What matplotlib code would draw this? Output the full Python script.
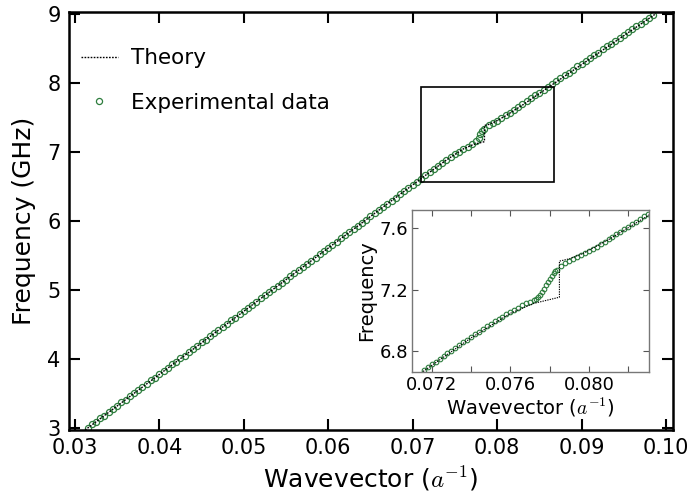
import numpy as np
import matplotlib
matplotlib.use('Agg')
import matplotlib.pyplot as plt
from matplotlib.patches import Rectangle
from matplotlib.ticker import MultipleLocator, FormatStrFormatter

plt.rcParams['mathtext.fontset'] = 'cm'

# experimental dispersion (main panel), wavevector in 1/a, frequency in GHz
k_exp = [0.0315, 0.0320, 0.0325, 0.0330, 0.0335, 0.0340, 0.0345, 0.0350, 0.0355, 0.0360,
         0.0365, 0.0370, 0.0375, 0.0380, 0.0385, 0.0390, 0.0395, 0.0400, 0.0405, 0.0410,
         0.0415, 0.0420, 0.0425, 0.0430, 0.0435, 0.0440, 0.0445, 0.0450, 0.0455, 0.0460,
         0.0465, 0.0470, 0.0475, 0.0480, 0.0485, 0.0490, 0.0495, 0.0500, 0.0505, 0.0510,
         0.0515, 0.0520, 0.0525, 0.0530, 0.0535, 0.0540, 0.0545, 0.0550, 0.0555, 0.0560,
         0.0565, 0.0570, 0.0575, 0.0580, 0.0585, 0.0590, 0.0595, 0.0600, 0.0605, 0.0610,
         0.0615, 0.0620, 0.0625, 0.0630, 0.0635, 0.0640, 0.0645, 0.0650, 0.0655, 0.0660,
         0.0665, 0.0670, 0.0675, 0.0680, 0.0685, 0.0690, 0.0695, 0.0700, 0.0705, 0.0710,
         0.0715, 0.0720, 0.0725, 0.0730, 0.0735, 0.0740, 0.0745, 0.0750, 0.0755, 0.0760,
         0.0765, 0.0770, 0.0775, 0.0778, 0.0780, 0.0782, 0.0785, 0.0790, 0.0795, 0.0800,
         0.0805, 0.0810, 0.0815, 0.0820, 0.0825, 0.0830, 0.0835, 0.0840, 0.0845, 0.0850,
         0.0855, 0.0860, 0.0865, 0.0870, 0.0875, 0.0880, 0.0885, 0.0890, 0.0895, 0.0900,
         0.0905, 0.0910, 0.0915, 0.0920, 0.0925, 0.0930, 0.0935, 0.0940, 0.0945, 0.0950,
         0.0955, 0.0960, 0.0965, 0.0970, 0.0975, 0.0980, 0.0985]
f_exp = [3.00, 3.05, 3.09, 3.14, 3.18, 3.23, 3.28, 3.32, 3.37, 3.41,
         3.46, 3.50, 3.55, 3.60, 3.64, 3.69, 3.73, 3.78, 3.82, 3.87,
         3.92, 3.96, 4.01, 4.05, 4.10, 4.14, 4.19, 4.24, 4.28, 4.33,
         4.37, 4.42, 4.46, 4.51, 4.56, 4.60, 4.65, 4.69, 4.74, 4.78,
         4.83, 4.88, 4.92, 4.97, 5.01, 5.06, 5.10, 5.15, 5.20, 5.24,
         5.29, 5.33, 5.38, 5.42, 5.47, 5.52, 5.56, 5.61, 5.65, 5.70,
         5.75, 5.79, 5.84, 5.88, 5.93, 5.97, 6.02, 6.07, 6.11, 6.16,
         6.20, 6.25, 6.29, 6.34, 6.39, 6.43, 6.48, 6.52, 6.57, 6.61,
         6.66, 6.71, 6.75, 6.80, 6.84, 6.89, 6.93, 6.97, 7.00, 7.04,
         7.07, 7.12, 7.16, 7.21, 7.26, 7.30, 7.34, 7.39, 7.42, 7.45,
         7.49, 7.53, 7.57, 7.61, 7.65, 7.69, 7.74, 7.78, 7.82, 7.86,
         7.90, 7.94, 7.99, 8.03, 8.07, 8.11, 8.15, 8.19, 8.24, 8.28,
         8.32, 8.36, 8.40, 8.44, 8.49, 8.53, 8.57, 8.61, 8.65, 8.69,
         8.74, 8.78, 8.82, 8.86, 8.90, 8.94, 8.99]

# theory curve (with the gap at the anticrossing)
k_th = [0.0312, 0.0716, 0.0740, 0.0760, 0.0772, 0.0785, 0.0785, 0.0790, 0.0797, 0.0810, 0.0830, 0.0988]
f_th = [2.97, 6.67, 6.885, 7.045, 7.11, 7.15, 7.385, 7.40, 7.435, 7.525, 7.68, 9.005]

# zoomed experimental data (inset)
k_zoom = [0.0716, 0.0718, 0.0720, 0.0722, 0.0724, 0.0726, 0.0728, 0.0730, 0.0732, 0.0734,
          0.0736, 0.0738, 0.0740, 0.0742, 0.0744, 0.0746, 0.0748, 0.0750, 0.0752, 0.0754,
          0.0756, 0.0758, 0.0760, 0.0762, 0.0764, 0.0766, 0.0768, 0.0770, 0.0772, 0.0773,
          0.0774, 0.0775, 0.0776, 0.0777, 0.0778, 0.0779, 0.0780, 0.0781, 0.0782, 0.0783,
          0.0784, 0.0786, 0.0788, 0.0790, 0.0792, 0.0794,
          0.0796, 0.0798, 0.0800, 0.0802, 0.0804, 0.0806, 0.0808, 0.0810, 0.0812, 0.0814,
          0.0816, 0.0818, 0.0820, 0.0822, 0.0824, 0.0826, 0.0828, 0.0830]
f_zoom = [6.676, 6.694, 6.712, 6.730, 6.748, 6.766, 6.784, 6.802, 6.820, 6.838,
          6.856, 6.874, 6.891, 6.909, 6.926, 6.943, 6.960, 6.976, 6.992, 7.008,
          7.024, 7.039, 7.054, 7.069, 7.083, 7.097, 7.111, 7.122, 7.132, 7.140,
          7.150, 7.166, 7.185, 7.206, 7.228, 7.248, 7.268, 7.288, 7.305, 7.318,
          7.330, 7.352, 7.370, 7.385, 7.398, 7.410,
          7.425, 7.438, 7.452, 7.466, 7.480, 7.495, 7.510, 7.526, 7.543, 7.559,
          7.576, 7.593, 7.610, 7.626, 7.643, 7.660, 7.677, 7.694]

green = '#2e7d3e'
dots = (0, (1.2, 1.0))

fig = plt.figure(figsize=(6.88, 5.0), dpi=100)
ax = fig.add_axes([0.1003, 0.14, 0.8775, 0.836])
ax.plot(k_th, f_th, color='k', ls=dots, lw=1.0, label='Theory', zorder=3)
ax.plot(k_exp, f_exp, 'o', mfc='none', mec=green, ms=4.4, mew=0.9, label='Experimental data')
ax.add_patch(Rectangle((0.07095, 6.565), 0.01574, 1.377, fill=False, ec='k', lw=1.2, zorder=4))
ax.set_xlim(0.0293, 0.1008)
ax.set_ylim(2.97, 9.03)
ax.xaxis.set_major_locator(MultipleLocator(0.01))
ax.xaxis.set_major_formatter(FormatStrFormatter('%.2f'))
ax.yaxis.set_major_locator(MultipleLocator(1))
ax.tick_params(direction='in', top=True, right=True, length=8, width=1.5, labelsize=15, pad=6)
for s in ax.spines.values():
    s.set_linewidth(1.8)
ax.set_xlabel('Wavevector ($a^{-1}$)', fontsize=18, labelpad=4)
ax.set_ylabel('Frequency (GHz)', fontsize=18, labelpad=8)
ax.legend(loc='upper left', bbox_to_anchor=(-0.012, 0.96), frameon=False, fontsize=15.5,
          handlelength=1.7, handletextpad=0.6, labelspacing=1.15)

# inset
ins = fig.add_axes([0.599, 0.256, 0.344, 0.324])
ins.plot(k_th, f_th, color='k', ls=dots, lw=0.8, zorder=3)
ins.plot(k_zoom, f_zoom, 'o', mfc='none', mec=green, ms=3.3, mew=0.8)
ins.set_xlim(0.0710, 0.08305)
ins.set_ylim(6.663, 7.718)
ins.xaxis.set_major_locator(MultipleLocator(0.004))
ins.xaxis.set_minor_locator(MultipleLocator(0.002))
ins.xaxis.set_major_formatter(FormatStrFormatter('%.3f'))
ins.yaxis.set_major_locator(MultipleLocator(0.4))
ins.yaxis.set_major_formatter(FormatStrFormatter('%.1f'))
ins.tick_params(which='both', direction='in', top=True, right=True, length=4, width=0.8,
                color='#555555', labelsize=13, pad=3)
for s in ins.spines.values():
    s.set_linewidth(1.0)
    s.set_color('#777777')
ins.set_xlabel('Wavevector ($a^{-1}$)', fontsize=14, labelpad=1)
ins.set_ylabel('Frequency', fontsize=14, labelpad=2)

fig.savefig('out.png', dpi=100)
